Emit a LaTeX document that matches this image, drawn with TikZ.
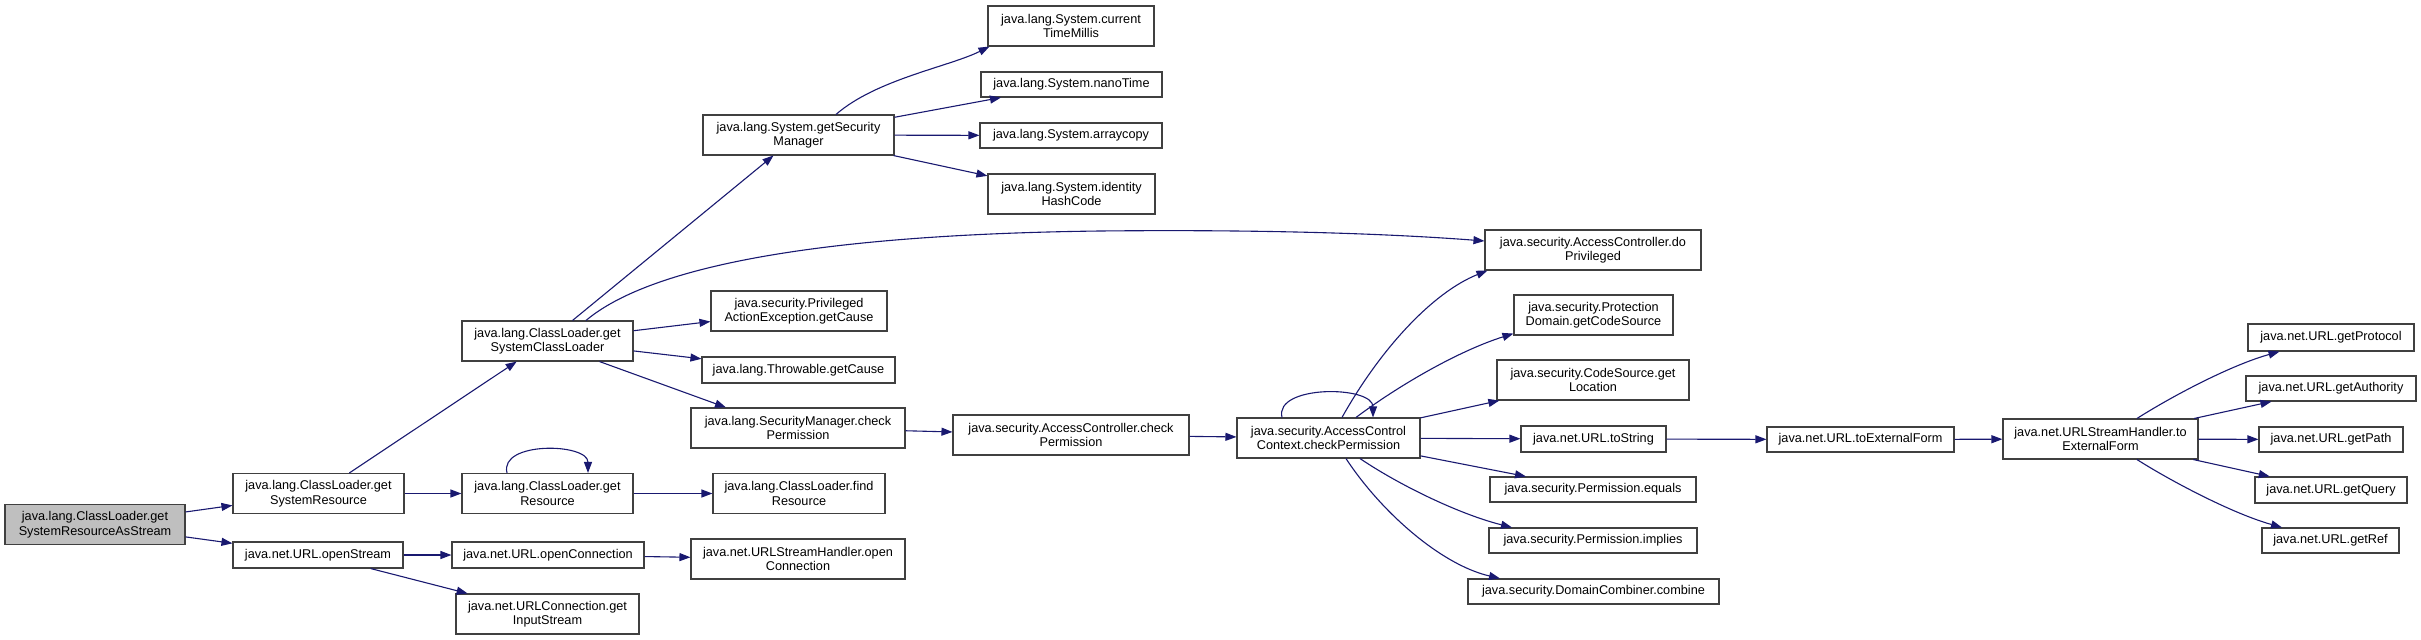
\documentclass[tikz,border=0pt]{standalone}
\usepackage{fontspec}
\setmainfont{Liberation Sans}
\usetikzlibrary{arrows.meta}
\definecolor{edgeblue}{RGB}{25,25,112}
\definecolor{rootgray}{RGB}{191,191,191}
\definecolor{boxline}{RGB}{64,64,64}
\newcommand\nodefont{\fontsize{12.7}{14.5}\selectfont}
\tikzset{
  box/.style={draw=boxline, line width=1.1pt, fill=white, inner sep=0pt, align=center, font=\nodefont, minimum height=40pt},
  boxone/.style={box, minimum height=26pt},
  rootbox/.style={box, fill=rootgray},
  edge/.style={draw=edgeblue, line width=1.1pt, -{Triangle[length=11pt,width=8pt]}},
}
\begin{document}
\begin{tikzpicture}[x=1pt,y=-1pt]
\useasboundingbox (0,0) rectangle (2421,640);
% column 0
\node[rootbox, minimum width=180pt] (root) at (95,524.5) {java.lang.ClassLoader.get\\SystemResourceAsStream};
% column 1
\node[box, minimum width=171pt] (gsr) at (318.5,493.5) {java.lang.ClassLoader.get\\SystemResource};
\node[boxone, minimum width=170pt] (ostream) at (318,555) {java.net.URL.openStream};
% column 2
\node[box, minimum width=171pt] (gscl) at (547.5,341) {java.lang.ClassLoader.get\\SystemClassLoader};
\node[box, minimum width=171pt] (gres) at (547.5,493.5) {java.lang.ClassLoader.get\\Resource};
\node[boxone, minimum width=192pt] (oconn) at (548,555) {java.net.URL.openConnection};
\node[box, minimum width=183pt] (gis) at (547.5,614) {java.net.URLConnection.get\\InputStream};
% column 3
\node[box, minimum width=191pt] (gsm) at (798.5,135) {java.lang.System.getSecurity\\Manager};
\node[box, minimum width=176pt] (paeg) at (799,311) {java.security.Privileged\\ActionException.getCause};
\node[boxone, minimum width=193pt] (tgc) at (798.5,370) {java.lang.Throwable.getCause};
\node[box, minimum width=214pt] (smcp) at (798,428) {java.lang.SecurityManager.check\\Permission};
\node[box, minimum width=172pt] (fres) at (799,493.5) {java.lang.ClassLoader.find\\Resource};
\node[box, minimum width=214pt] (ushoc) at (798,559) {java.net.URLStreamHandler.open\\Connection};
% column 4
\node[box, minimum width=166pt] (ctm) at (1071,26) {java.lang.System.current\\TimeMillis};
\node[boxone, minimum width=181pt, minimum height=25pt] (nano) at (1071.5,84.5) {java.lang.System.nanoTime};
\node[boxone, minimum width=182pt, minimum height=25pt] (arr) at (1071,135.5) {java.lang.System.arraycopy};
\node[box, minimum width=167pt] (ihc) at (1071.5,194) {java.lang.System.identity\\HashCode};
\node[box, minimum width=236pt] (acp) at (1071,435) {java.security.AccessController.check\\Permission};
% column 5
\node[box, minimum width=183pt] (accp) at (1328.5,438) {java.security.AccessControl\\Context.checkPermission};
% column 6
\node[box, minimum width=216pt] (dopriv) at (1593,250) {java.security.AccessController.do\\Privileged};
\node[box, minimum width=159pt] (pdcs) at (1593.5,315) {java.security.Protection\\Domain.getCodeSource};
\node[box, minimum width=192pt] (csgl) at (1593,380) {java.security.CodeSource.get\\Location};
\node[boxone, minimum width=145pt] (urlts) at (1593.5,439) {java.net.URL.toString};
\node[boxone, minimum width=206pt, minimum height=25pt] (peq) at (1593,489.5) {java.security.Permission.equals};
\node[boxone, minimum width=208pt, minimum height=25pt] (pimp) at (1593,540.5) {java.security.Permission.implies};
\node[boxone, minimum width=251pt, minimum height=25pt] (dcc) at (1593.5,591.5) {java.security.DomainCombiner.combine};
% column 7, 8, 9
\node[boxone, minimum width=187pt, minimum height=25pt] (tef) at (1860.5,439.5) {java.net.URL.toExternalForm};
\node[box, minimum width=195pt] (ushtef) at (2100.5,439) {java.net.URLStreamHandler.to\\ExternalForm};
\node[boxone, minimum width=166pt, minimum height=27pt] (gproto) at (2331,337.5) {java.net.URL.getProtocol};
\node[boxone, minimum width=170pt, minimum height=25pt] (gauth) at (2331,388.5) {java.net.URL.getAuthority};
\node[boxone, minimum width=144pt, minimum height=25pt] (gpath) at (2331,439.5) {java.net.URL.getPath};
\node[boxone, minimum width=152pt] (gquery) at (2331,490) {java.net.URL.getQuery};
\node[boxone, minimum width=137pt, minimum height=25pt] (gref) at (2330.5,540.5) {java.net.URL.getRef};

% edges
\draw[edge] (root) -- (gsr);
\draw[edge] (root) -- (ostream);
\draw[edge] (gsr) -- (gscl);
\draw[edge] (gsr) -- (gres);
\draw[edge] ([xshift=-40.5pt]gres.north) .. controls +(-8,-32) and +(0,-30) .. ([xshift=40.5pt]gres.north);
\draw[edge] (gres) -- (fres);
\draw[edge] (ostream) -- (oconn);
\draw[edge] (ostream) -- (gis);
\draw[edge] (oconn) -- (ushoc);
\draw[edge] (gscl) -- (gsm);
\draw[edge] ([xshift=38.5pt]gscl.north) .. controls (640,275) and (780,235) .. (1100,231) .. controls (1300,229) and (1420,236) .. ([yshift=9pt]dopriv.west);
\draw[edge] (gscl) -- (paeg);
\draw[edge] (gscl) -- (tgc);
\draw[edge] ([xshift=52pt]gscl.south) -- ([xshift=-72pt]smcp.north);
\draw[edge] ([xshift=37.5pt]gsm.north) .. controls +(40,-35) and +(-40,20) .. ([xshift=2pt]ctm.south west);
\draw[edge] (gsm) -- (nano);
\draw[edge] (gsm) -- (arr);
\draw[edge] (gsm) -- (ihc);
\draw[edge] (smcp) -- (acp);
\draw[edge] (acp) -- (accp);
\draw[edge] ([xshift=-46.5pt]accp.north) .. controls +(-8,-33) and +(0,-32) .. ([xshift=44.5pt]accp.north);
\draw[edge] ([xshift=13.5pt]accp.north) .. controls +(38,-68) and +(-55,22) .. ([xshift=3pt]dopriv.south west);
\draw[edge] ([xshift=27.5pt]accp.north) .. controls +(44,-33) and +(-54,17) .. ([yshift=2pt]pdcs.south west);
\draw[edge] (accp) -- (csgl);
\draw[edge] (accp) -- (urlts);
\draw[edge] (accp) -- (peq);
\draw[edge] ([xshift=31.5pt]accp.south) .. controls +(40,27) and +(-52,-13) .. ([xshift=-81pt]pimp.north);
\draw[edge] ([xshift=17.5pt]accp.south) .. controls +(34,52) and +(-60,-14) .. ([xshift=-93.5pt]dcc.north);
\draw[edge] (urlts) -- (tef);
\draw[edge] (tef) -- (ushtef);
\draw[edge] ([xshift=36.5pt]ushtef.north) .. controls +(33,-21) and +(-50,14) .. ([xshift=-51.5pt]gproto.south);
\draw[edge] (ushtef) -- (gauth);
\draw[edge] (ushtef) -- (gpath);
\draw[edge] (ushtef) -- (gquery);
\draw[edge] ([xshift=36.5pt]ushtef.south) .. controls +(33,21) and +(-50,-14) .. ([xshift=-48.5pt]gref.north);
\end{tikzpicture}
\end{document}
